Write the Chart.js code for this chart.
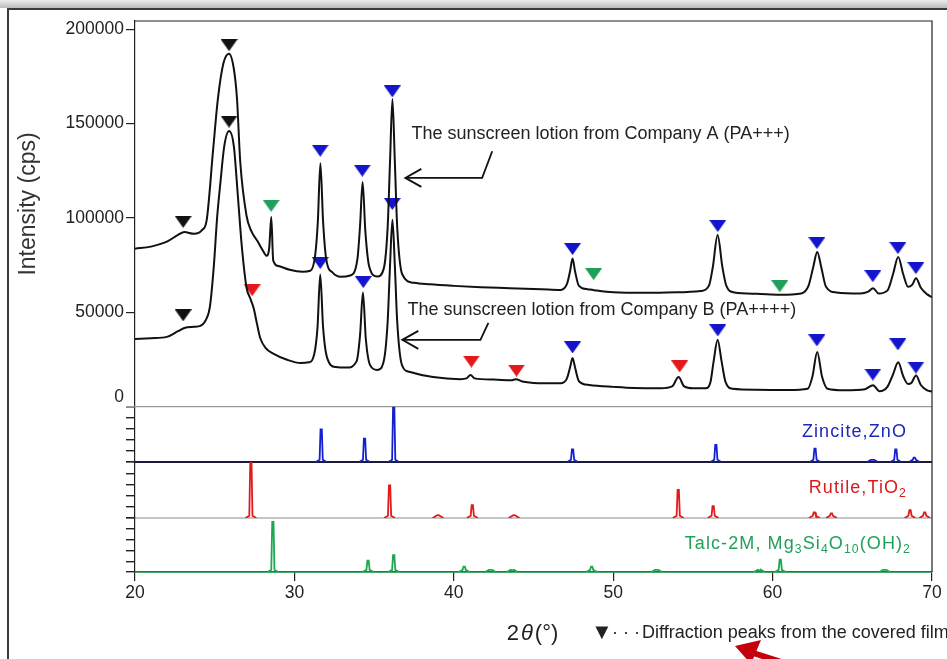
<!DOCTYPE html>
<html>
<head>
<meta charset="utf-8">
<title>XRD of sunscreen lotions</title>
<script src="https://cdn.jsdelivr.net/npm/chart.js@4.4.1/dist/chart.umd.min.js"></script>
<style>
  html, body { margin: 0; padding: 0; background: #fff; }
  #wrap { position: relative; width: 947px; height: 659px; overflow: hidden; background: #fff; }
  #shade { position: absolute; left: 0; top: 0; width: 947px; height: 8px; background: linear-gradient(#ececec, #bcbcbc); }
  #frame { position: absolute; left: 7px; top: 8px; width: 980px; height: 700px; border-left: 2px solid #3a3a3a; border-top: 2px solid #3a3a3a; }
  #xrd { position: absolute; left: 0; top: 0; }
</style>
</head>
<body>
<div id="wrap">
  <div id="shade"></div>
  <div id="frame"></div>
  <canvas id="xrd" width="947" height="659"></canvas>
</div>
<script>
// measured patterns, [2theta, intensity in cps]
const companyA = [
  [20.0, 83700], [21.0, 84800], [22.0, 87400], [22.7, 91000], [23.1, 92500], [23.7, 91600],
  [24.2, 93500], [24.5, 99000], [24.9, 136000], [25.2, 163000], [25.55, 182000], [25.9, 187000],
  [26.2, 179000], [26.4, 163000], [26.6, 130000], [27.0, 101000], [27.3, 93000], [27.7, 87500],
  [28.0, 83000], [28.25, 80000], [28.42, 84000], [28.55, 100500], [28.67, 77500], [29.0, 74500],
  [29.7, 72500], [30.5, 71500], [31.0, 72000], [31.3, 80000], [31.47, 98000], [31.63, 129000],
  [31.8, 98000], [32.0, 78000], [32.4, 71000], [32.9, 68800], [33.5, 69500], [33.95, 78000],
  [34.12, 96000], [34.28, 119000], [34.45, 93000], [34.7, 74000], [35.2, 69000], [35.6, 73000],
  [35.85, 95000], [36.0, 130000], [36.15, 163000], [36.3, 130000], [36.45, 95000], [36.77, 70000],
  [37.5, 65600], [38.5, 64800], [40.0, 64000], [41.7, 63300], [43.5, 62800], [45.5, 62200],
  [46.7, 61800], [47.1, 65000], [47.3, 72000], [47.45, 78500], [47.6, 72000], [47.85, 64000],
  [48.4, 62200], [48.8, 61700], [50.0, 60600], [52.0, 60300], [54.0, 60600], [55.5, 61300],
  [56.0, 64000], [56.25, 74000], [56.55, 91000], [56.85, 74000], [57.1, 64000], [57.6, 60500],
  [59.0, 59800], [60.45, 59300], [61.8, 60000], [62.25, 64000], [62.55, 74000], [62.8, 82000],
  [63.05, 74000], [63.35, 63500], [64.0, 60500], [65.5, 60000], [66.0, 61000], [66.3, 62800],
  [66.65, 60000], [67.2, 61500], [67.55, 70000], [67.88, 79300], [68.2, 70000], [68.5, 63500],
  [68.75, 64500], [69.0, 68000], [69.3, 63000], [69.7, 59500], [70.0, 58000]
];

const companyB = [
  [20.0, 35800], [21.0, 36300], [22.0, 37000], [22.7, 40000], [23.1, 41700], [23.7, 42300],
  [24.1, 42800], [24.45, 46000], [24.7, 53000], [24.95, 75000], [25.15, 100000], [25.35, 118000],
  [25.6, 138000], [25.9, 146000], [26.2, 138000], [26.45, 112000], [26.7, 85000], [27.0, 63000],
  [27.25, 57000], [27.45, 52000], [27.65, 44000], [27.85, 36500], [28.2, 31000], [28.7, 28000],
  [29.5, 25000], [30.4, 23100], [30.9, 23500], [31.25, 28000], [31.45, 42000], [31.62, 70000],
  [31.8, 42000], [32.05, 26000], [32.6, 21000], [33.3, 20700], [33.9, 24000], [34.12, 38000],
  [34.3, 60500], [34.48, 36000], [34.75, 22000], [35.2, 19500], [35.6, 24000], [35.85, 45000],
  [36.0, 75000], [36.15, 99000], [36.3, 75000], [36.45, 45000], [36.75, 22000], [37.2, 18500],
  [38.7, 15700], [40.4, 14600], [40.8, 15000], [41.05, 16800], [41.3, 15000], [42.5, 14400],
  [43.6, 14000], [43.9, 14600], [44.3, 13300], [45.0, 12600], [46.7, 12400], [47.1, 15000],
  [47.3, 21000], [47.45, 25800], [47.6, 21000], [47.85, 13500], [48.5, 11500], [50.0, 10500],
  [51.3, 9900], [53.0, 9800], [53.7, 10800], [54.1, 15700], [54.45, 10800], [55.0, 9800],
  [55.8, 9800], [56.1, 13000], [56.3, 24000], [56.55, 35500], [56.8, 24000], [57.05, 13000],
  [57.5, 9500], [59.0, 9000], [61.0, 8800], [62.2, 9500], [62.5, 16000], [62.8, 29000],
  [63.1, 16000], [63.45, 9500], [64.5, 8700], [65.8, 9300], [66.3, 11400], [66.7, 8200],
  [67.2, 10500], [67.55, 17000], [67.88, 23500], [68.2, 16000], [68.5, 12000], [68.7, 12500],
  [69.0, 16500], [69.3, 11500], [69.7, 8600], [70.0, 8000]
];

// triangles over the assigned peaks, [2theta, height]
const filmMarks = [[23.02, 97900], [25.9, 191500], [23.02, 48400], [25.9, 151000]];
const zincMarks = [
  [31.62, 135600], [34.26, 125000], [36.14, 167000], [47.45, 83500], [56.56, 95700],
  [62.78, 86700], [66.29, 69100], [67.86, 84000], [68.99, 73400],
  [31.62, 76100], [34.32, 66000], [36.14, 107400], [47.45, 31400], [56.56, 40400],
  [62.78, 35100], [66.29, 17000], [67.86, 33000], [68.99, 20700]
];
const rutileMarks = [[27.35, 61700], [41.1, 23900], [43.93, 19100], [54.17, 21300]];
const talcMarks = [[28.54, 106400], [48.77, 70200], [60.45, 63800]];

// reference patterns: peak positions and relative intensity (%)
const zincitePos = [31.68, 34.4, 36.23, 47.45, 56.44, 62.66, 66.27, 67.73, 68.89];
const zinciteRel = [59, 42, 100, 23, 31, 24, 4, 23, 8];
const rutilePos = [27.27, 35.97, 39.01, 41.16, 43.78, 54.08, 56.27, 62.62, 63.69, 68.62, 69.54];
const rutileRel = [99, 58, 5, 23, 5, 50, 21, 10, 8, 14, 10];
const talcPos = [28.65, 34.62, 36.23, 40.65, 42.3, 43.67, 48.65, 52.73, 59.17, 60.48, 67.03];
const talcRel = [93, 21, 31, 10, 4, 3, 10, 4, 3, 23, 4];

const xTicks = [20, 30, 40, 50, 60, 70];
const yTicks = [0, 50000, 100000, 150000, 200000];
const relTicks = [0, 20, 40, 60, 80, 100];

const FONT = '"Liberation Sans", Arial, Helvetica, sans-serif';
Chart.defaults.font.family = FONT;
Chart.defaults.font.size = 17.5;
Chart.defaults.color = '#222';

function toPoints(arr) {
  return arr.map(p => ({ x: p[0], y: p[1] }));
}

// little line profile for each reference peak
function stickPattern(pos, rel) {
  const pts = [];
  pos.forEach((p, i) => {
    const h = rel[i];
    pts.push({ x: p - 0.34, y: 0 }, { x: p - 0.1, y: 4 }, { x: p - 0.04, y: h },
      { x: p + 0.04, y: h }, { x: p + 0.1, y: 4 }, { x: p + 0.34, y: 0 }, { x: p + 0.35, y: null });
  });
  return pts;
}

// flat down-pointing triangle used as marker
function tri(color) {
  const c = document.createElement('canvas');
  c.width = 17;
  c.height = 12;
  const g = c.getContext('2d');
  g.fillStyle = color;
  g.beginPath();
  g.moveTo(0, 0);
  g.lineTo(17, 0);
  g.lineTo(8.5, 12);
  g.closePath();
  g.fill();
  return c;
}

function markerSet(data, color) {
  return {
    data: toPoints(data),
    yAxisID: 'y',
    showLine: false,
    pointStyle: tri(color),
    pointRadius: 6,
    pointHoverRadius: 6
  };
}

function stickSet(pos, rel, color, axis) {
  return {
    data: stickPattern(pos, rel),
    yAxisID: axis,
    borderColor: color,
    borderWidth: 1.8,
    pointRadius: 0,
    tension: 0,
    spanGaps: false
  };
}

function curveSet(data) {
  return {
    data: toPoints(data),
    yAxisID: 'y',
    borderColor: '#111',
    borderWidth: 2,
    pointRadius: 0,
    cubicInterpolationMode: 'monotone'
  };
}

function arrowHead(g, x, y, dirX, dirY, len, half) {
  const bx = x - dirX * len, by = y - dirY * len;
  g.beginPath();
  g.moveTo(bx - dirY * half, by + dirX * half);
  g.lineTo(x, y);
  g.lineTo(bx + dirY * half, by - dirX * half);
  g.stroke();
}

function richText(g, parts, xRight, y, size, color, spacing) {
  const sub = size * 0.68;
  g.letterSpacing = spacing + 'px';
  let w = 0;
  parts.forEach(([t, s]) => {
    g.font = (s ? sub : size) + 'px ' + FONT;
    w += g.measureText(t).width;
  });
  let x = xRight - w;
  g.fillStyle = color;
  g.textAlign = 'left';
  g.textBaseline = 'alphabetic';
  parts.forEach(([t, s]) => {
    g.font = (s ? sub : size) + 'px ' + FONT;
    g.fillText(t, x, s ? y + size * 0.24 : y);
    x += g.measureText(t).width;
  });
  g.letterSpacing = '0px';
}

const decor = {
  id: 'decor',
  beforeDatasetsDraw(chart) {
    const g = chart.ctx, a = chart.chartArea, s = chart.scales;
    g.save();
    const seps = [
      [s.y.bottom, '#9a9a9a', a.left - 9, 1.2],
      [s.yZ.bottom, '#1a1a3c', a.left, 1.8],
      [s.yR.bottom, '#8c8c8c', a.left, 1.2],
      [s.yT.bottom, '#1f9e4a', a.left, 1.6]
    ];
    seps.forEach(([y, c, x0, w]) => {
      g.strokeStyle = c;
      g.lineWidth = w;
      g.beginPath();
      g.moveTo(x0, y);
      g.lineTo(a.right, y);
      g.stroke();
    });
    g.restore();
  },
  afterDraw(chart) {
    const g = chart.ctx, a = chart.chartArea, s = chart.scales;
    const px = v => s.x.getPixelForValue(v);
    const py = v => s.y.getPixelForValue(v);
    g.save();

    // top and right frame of the plot
    g.strokeStyle = '#222';
    g.lineWidth = 1.2;
    g.beginPath();
    g.moveTo(a.left, a.top);
    g.lineTo(a.right, a.top);
    g.lineTo(a.right, a.bottom);
    g.stroke();

    // zero label sits a little above its tick
    g.fillStyle = '#222';
    g.font = '17.5px ' + FONT;
    g.textAlign = 'right';
    g.textBaseline = 'middle';
    g.fillText('0', a.left - 11, py(0) - 10);

    // y title
    g.save();
    g.translate(29, a.top + 183);
    g.rotate(-Math.PI / 2);
    g.font = '23px ' + FONT;
    g.textAlign = 'center';
    g.fillStyle = '#333';
    g.fillText('Intensity (cps)', 0, 0);
    g.restore();

    // x title, 2θ(°)
    g.textBaseline = 'alphabetic';
    g.textAlign = 'left';
    g.fillStyle = '#222';
    const bits = [['2', ''], ['\u03B8', 'italic '], ['(\u00B0)', '']];
    let tw = 0;
    bits.forEach(([t, st]) => { g.font = st + '22px ' + FONT; tw += g.measureText(t).width + 2; });
    let tx = (a.left + a.right) / 2 - tw / 2;
    bits.forEach(([t, st]) => {
      g.font = st + '22px ' + FONT;
      g.fillText(t, tx, a.bottom + 68);
      tx += g.measureText(t).width + 2;
    });

    // note about the black triangles
    g.font = '22px ' + FONT;
    g.fillText('\u25BC', 591, a.bottom + 67);
    g.font = '18px ' + FONT;
    g.fillText('\u00B7 \u00B7 \u00B7', 612, a.bottom + 66);
    g.fillText('Diffraction peaks from the covered film', 642, a.bottom + 66);

    // sample annotations with arrows
    g.font = '18px ' + FONT;
    g.textBaseline = 'middle';
    g.fillStyle = '#222';
    g.fillText('The sunscreen lotion from Company A (PA+++)', px(37.34), py(144500));
    g.fillText('The sunscreen lotion from Company B (PA++++)', px(37.09), py(51300));
    g.strokeStyle = '#111';
    g.lineWidth = 1.8;
    [[42.41, 135300, 41.78, 121200, 36.96], [42.17, 44400, 41.67, 35400, 36.77]].forEach(r => {
      g.beginPath();
      g.moveTo(px(r[0]), py(r[1]));
      g.lineTo(px(r[2]), py(r[3]));
      g.lineTo(px(r[4]), py(r[3]));
      g.stroke();
      arrowHead(g, px(r[4]), py(r[3]), -1, 0, 16, 9);
    });

    // reference pattern names
    richText(g, [['Zincite,ZnO', false]], a.right - 25, s.yZ.bottom - 25, 18, '#1c28b8', 1.1);
    richText(g, [['Rutile,TiO', false], ['2', true]], a.right - 25, s.yR.bottom - 25, 18, '#d81c1c', 1.1);
    richText(g, [['Talc-2M, Mg', false], ['3', true], ['Si', false], ['4', true], ['O', false], ['10', true],
      ['(OH)', false], ['2', true]], a.right - 21, s.yT.bottom - 23, 18, '#22a05a', 1.1);

    // red pointer at the bottom
    g.fillStyle = '#c4000c';
    g.strokeStyle = '#c4000c';
    g.lineWidth = 6;
    g.beginPath();
    g.moveTo(800, 668);
    g.lineTo(750, 652);
    g.stroke();
    g.beginPath();
    g.moveTo(735, 646);
    g.lineTo(761, 640);
    g.lineTo(751, 664);
    g.closePath();
    g.fill();

    g.restore();
  }
};

const subAxis = (stackWeight, weight) => ({
  type: 'linear',
  position: 'left',
  stack: 'left',
  stackWeight: stackWeight,
  weight: weight,
  min: 0,
  max: 100,
  afterBuildTicks: sc => { sc.ticks = relTicks.map(v => ({ value: v })); },
  ticks: { display: false },
  grid: { drawOnChartArea: false, drawTicks: true, tickLength: 9, color: '#222', lineWidth: 1.4 },
  border: { color: '#222', width: 1.2 },
  afterFit: sc => { sc.width = 135; }
});

new Chart(document.getElementById('xrd').getContext('2d'), {
  type: 'line',
  data: {
    datasets: [
      curveSet(companyA),
      curveSet(companyB),
      markerSet(filmMarks, '#111'),
      markerSet(zincMarks, '#1414cc'),
      markerSet(rutileMarks, '#e3191c'),
      markerSet(talcMarks, '#1ea05a'),
      stickSet(zincitePos, zinciteRel, '#1420d0', 'yZ'),
      stickSet(rutilePos, rutileRel, '#e01b1b', 'yR'),
      stickSet(talcPos, talcRel, '#1fa653', 'yT')
    ]
  },
  options: {
    responsive: false,
    animation: false,
    events: [],
    layout: { padding: { top: 21, right: 15, bottom: 50, left: 0 } },
    plugins: { legend: { display: false }, tooltip: { enabled: false } },
    scales: {
      x: {
        type: 'linear',
        min: 20,
        max: 70,
        afterBuildTicks: sc => { sc.ticks = xTicks.map(v => ({ value: v })); },
        ticks: { padding: 2, color: '#222', font: { size: 17.5 } },
        grid: { drawOnChartArea: false, tickLength: 9, color: '#222', lineWidth: 1.2 },
        border: { color: '#222', width: 1.2 },
        afterFit: sc => { sc.height = 37; }
      },
      y: {
        type: 'linear',
        position: 'left',
        stack: 'left',
        stackWeight: 385.7,
        weight: 4,
        min: 0,
        max: 204300,
        afterBuildTicks: sc => { sc.ticks = yTicks.map(v => ({ value: v })); },
        ticks: { padding: 2, color: '#222', callback: v => (v === 0 ? '' : String(v)) },
        grid: { drawOnChartArea: false, tickLength: 9, color: '#222', lineWidth: 1.2 },
        border: { color: '#222', width: 1.2 },
        afterFit: sc => { sc.width = 135; }
      },
      yZ: subAxis(55.3, 3),
      yR: subAxis(56, 2),
      yT: subAxis(54, 1)
    }
  },
  plugins: [decor]
});
</script>
</body>
</html>
